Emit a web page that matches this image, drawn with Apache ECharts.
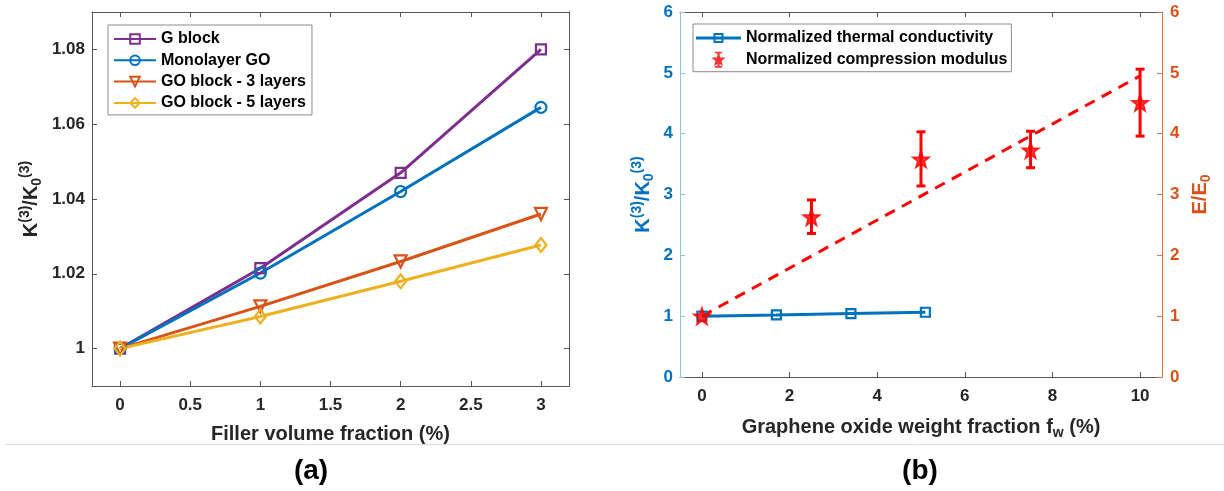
<!DOCTYPE html>
<html>
<head>
<meta charset="utf-8">
<script src="https://cdn.jsdelivr.net/npm/echarts@6/dist/echarts.min.js"></script>
<style>
  html, body { margin: 0; padding: 0; background: #fff; }
  #chart { width: 1224px; height: 491px; }
</style>
</head>
<body>
<div id="chart"></div>
<script>
// ---------- Data: panel (a) ----------
const fillerVol = [0, 1, 2, 3];
const gBlock = [1.000, 1.0215, 1.047, 1.080];
const monolayerGO = [1.000, 1.0202, 1.042, 1.0645];
const goBlock3 = [1.000, 1.0113, 1.0233, 1.036];
const goBlock5 = [1.000, 1.0086, 1.018, 1.0277];
const leftXTicks = [0, 0.5, 1, 1.5, 2, 2.5, 3];
const leftYTicks = [1, 1.02, 1.04, 1.06, 1.08];

// ---------- Data: panel (b) ----------
const weightFrac = [0, 1.7, 3.4, 5.1];
const kNorm = [1.000, 1.0202, 1.042, 1.0645];
const modX = [0, 2.5, 5, 7.5, 10];
const modMean = [1.0, 2.63, 3.58, 3.73, 4.51];
const modLow = [1.0, 2.36, 3.14, 3.44, 3.96];
const modHigh = [1.0, 2.91, 4.03, 4.04, 5.06];
const fitX = [0, 10];
const fitY = [1.0, 4.95];
const rightXTicks = [0, 2, 4, 6, 8, 10];

// ---------- Styles ----------
const FONT = "'Liberation Sans', Arial, sans-serif";
const C_PURPLE = '#7E2F8E', C_BLUE = '#0072BD', C_ORANGE = '#D95319', C_YELLOW = '#EDB120', C_RED = '#FF0000';
const AX = '#555555', TXT = '#262626';
const STAR = 'path://M0,-10L2.35,-3.24L9.51,-3.09L3.8,1.24L5.88,8.09L0,4L-5.88,8.09L-3.8,1.24L-9.51,-3.09L-2.35,-3.24Z';
const STAR_BAR = 'path://M-1.4,-10H1.4V10H-1.4Z M-4.5,-10H4.5V-8H-4.5Z M-4.5,8H4.5V10H-4.5Z M0,-8.5L2.4,-2.7L9,-2.6L3.8,1.6L5.7,8L0,4.3L-5.7,8L-3.8,1.6L-9,-2.6L-2.4,-2.7Z';
const LINE_SQUARE = 'path://M-22.5,-1.5H22.5V1.5H-22.5Z M-5,-5H5V5H-5Z M-3,-3V3H3V-3Z';

const tickLabel = (color) => ({ fontSize: 17, fontWeight: 'bold', color: color, fontFamily: FONT });
const nameRich = (color) => ({
  m: { fontSize: 20, fontWeight: 'bold', color: color, fontFamily: FONT, lineHeight: 26 },
  sup: { fontSize: 14, fontWeight: 'bold', color: color, fontFamily: FONT, verticalAlign: 'top', lineHeight: 14 },
  sub: { fontSize: 14, fontWeight: 'bold', color: color, fontFamily: FONT, verticalAlign: 'bottom', lineHeight: 14 }
});

function boxAxis(extra, lineColor, tickColor, ticks) {
  const base = {
    type: 'value',
    splitLine: { show: false },
    axisLine: { show: true, onZero: false, lineStyle: { color: lineColor, width: 1 } },
    axisTick: { show: true, inside: true, length: 5, lineStyle: { color: tickColor, width: 1 } },
    axisLabel: { show: false },
    nameMoveOverlap: false
  };
  if (ticks) {
    base.axisTick.customValues = ticks;
  }
  return Object.assign(base, extra);
}

function lineSeries(name, xs, ys, color, symbol, size, rotate) {
  return {
    type: 'line', name: name, xAxisIndex: 0, yAxisIndex: 0,
    data: xs.map((x, i) => [x, ys[i]]),
    symbol: symbol, symbolSize: size, symbolRotate: rotate || 0,
    lineStyle: { color: color, width: 3 },
    itemStyle: { color: 'rgba(255,255,255,0)', borderColor: color, borderWidth: 2.2 },
    z: 3
  };
}

const chart = echarts.init(document.getElementById('chart'), null, { renderer: 'canvas' });

const option = {
  animation: false,
  backgroundColor: '#ffffff',
  grid: [
    { left: 92, top: 12, width: 477, height: 374, outerBoundsMode: 'none', containLabel: false },
    { left: 680, top: 12, width: 482, height: 365, outerBoundsMode: 'none', containLabel: false }
  ],
  xAxis: [
    boxAxis({
      gridIndex: 0, position: 'bottom', min: -0.2, max: 3.2,
      axisLabel: Object.assign({ show: true, customValues: leftXTicks, margin: 11 }, tickLabel(TXT)),
      name: '{m|Filler volume fraction (%)}', nameLocation: 'middle', nameGap: 35,
      nameTextStyle: { rich: nameRich(TXT) }
    }, AX, AX, leftXTicks),
    boxAxis({ gridIndex: 0, position: 'top', min: -0.2, max: 3.2 }, AX, AX, leftXTicks),
    boxAxis({
      gridIndex: 1, position: 'bottom', min: -0.5, max: 10.5,
      axisLabel: Object.assign({ show: true, customValues: rightXTicks, margin: 11 }, tickLabel(TXT)),
      name: '{m|Graphene oxide weight fraction f}{sub|w}{m| (%)}', nameLocation: 'middle', nameGap: 37,
      nameTextStyle: { rich: nameRich(TXT) }
    }, AX, AX, rightXTicks),
    boxAxis({ gridIndex: 1, position: 'top', min: -0.5, max: 10.5 }, AX, AX, rightXTicks)
  ],
  yAxis: [
    boxAxis({
      gridIndex: 0, position: 'left', min: 0.99, max: 1.09,
      axisLabel: Object.assign({ show: true, customValues: leftYTicks, margin: 7,
        formatter: (v) => String(+Number(v).toFixed(2)) }, tickLabel(TXT)),
      name: '{m|K}{sup|(3)}{m|/K}{sub|0}{sup|(3)}', nameLocation: 'middle', nameRotate: 90, nameGap: 48,
      nameTextStyle: { rich: nameRich(TXT) }
    }, AX, AX, leftYTicks),
    boxAxis({ gridIndex: 0, position: 'right', min: 0.99, max: 1.09 }, AX, AX, leftYTicks),
    boxAxis({
      gridIndex: 1, position: 'left', min: 0, max: 6, interval: 1,
      axisLabel: Object.assign({ show: true, margin: 7 }, tickLabel(C_BLUE)),
      name: '{m|K}{sup|(3)}{m|/K}{sub|0}{sup|(3)}', nameLocation: 'middle', nameRotate: 90, nameGap: 24,
      nameTextStyle: { rich: nameRich(C_BLUE) }
    }, '#8fc0e6', '#8fc0e6'),
    boxAxis({
      gridIndex: 1, position: 'right', min: 0, max: 6, interval: 1,
      axisLabel: Object.assign({ show: true, margin: 8 }, tickLabel(C_ORANGE)),
      name: '{m|E/E}{sub|0}', nameLocation: 'middle', nameRotate: 90, nameGap: 25,
      nameTextStyle: { rich: nameRich(C_ORANGE) }
    }, '#e0773f', '#e0773f')
  ],
  legend: [
    {
      data: ['G block', 'Monolayer GO', 'GO block - 3 layers', 'GO block - 5 layers'],
      orient: 'vertical', left: 108, top: 25,
      itemWidth: 42, itemHeight: 12, itemGap: 5.3,
      padding: [6, 6, 4, 5],
      borderColor: '#8c8c8c', borderWidth: 1, backgroundColor: '#ffffff',
      selectedMode: false,
      textStyle: { fontSize: 16, fontWeight: 'bold', color: '#000', fontFamily: FONT }
    },
    {
      data: [
        { name: 'Normalized thermal conductivity', icon: LINE_SQUARE, itemStyle: { color: C_BLUE, borderWidth: 0 } },
        { name: 'Normalized compression modulus', icon: STAR_BAR, itemStyle: { color: C_RED, borderWidth: 0 } }
      ],
      orient: 'vertical', left: 693, top: 24,
      itemWidth: 45, itemHeight: 16, itemGap: 5.7,
      padding: [6, 4, 4, 3],
      borderColor: '#8c8c8c', borderWidth: 1, backgroundColor: '#ffffff',
      selectedMode: false,
      textStyle: { fontSize: 16, fontWeight: 'bold', color: '#000', fontFamily: FONT }
    }
  ],
  series: [
    lineSeries('G block', fillerVol, gBlock, C_PURPLE, 'rect', 10),
    lineSeries('Monolayer GO', fillerVol, monolayerGO, C_BLUE, 'circle', 11),
    lineSeries('GO block - 3 layers', fillerVol, goBlock3, C_ORANGE, 'triangle', 12, 180),
    lineSeries('GO block - 5 layers', fillerVol, goBlock5, C_YELLOW, 'diamond', [11, 14]),
    {
      type: 'line', name: 'Normalized thermal conductivity', xAxisIndex: 2, yAxisIndex: 2,
      data: weightFrac.map((x, i) => [x, kNorm[i]]),
      symbol: 'rect', symbolSize: 9,
      lineStyle: { color: C_BLUE, width: 3 },
      itemStyle: { color: 'rgba(255,255,255,0)', borderColor: C_BLUE, borderWidth: 2.2 },
      z: 2
    },
    {
      type: 'line', name: 'linear fit', xAxisIndex: 2, yAxisIndex: 3,
      data: fitX.map((x, i) => [x, fitY[i]]),
      symbol: 'none',
      lineStyle: { color: C_RED, width: 3, type: [11, 8] },
      z: 2
    },
    {
      type: 'custom', name: 'error bars', xAxisIndex: 2, yAxisIndex: 3,
      data: modX.map((x, i) => [x, modLow[i], modHigh[i]]),
      encode: { x: 0, y: [1, 2] },
      renderItem: function (params, api) {
        const x = api.value(0), lo = api.value(1), hi = api.value(2);
        if (hi - lo < 1e-9) return;
        const pTop = api.coord([x, hi]);
        const pBot = api.coord([x, lo]);
        const w = 4.5;
        const st = { stroke: C_RED, lineWidth: 3 };
        return {
          type: 'group',
          children: [
            { type: 'line', shape: { x1: pTop[0], y1: pTop[1], x2: pBot[0], y2: pBot[1] }, style: st },
            { type: 'line', shape: { x1: pTop[0] - w, y1: pTop[1], x2: pTop[0] + w, y2: pTop[1] }, style: st },
            { type: 'line', shape: { x1: pBot[0] - w, y1: pBot[1], x2: pBot[0] + w, y2: pBot[1] }, style: st }
          ]
        };
      },
      z: 3
    },
    {
      type: 'scatter', name: 'Normalized compression modulus', xAxisIndex: 2, yAxisIndex: 3,
      data: modX.map((x, i) => [x, modMean[i]]),
      symbol: STAR, symbolSize: 17,
      itemStyle: { color: C_RED, borderColor: C_RED, borderWidth: 1.5 },
      z: 4
    }
  ],
  graphic: [
    { type: 'line', shape: { x1: 6, y1: 444.5, x2: 1224, y2: 444.5 }, style: { stroke: '#dcdcdc', lineWidth: 1 }, silent: true },
    { type: 'text', x: 311, y: 471, style: { text: '(a)', fontSize: 28, fontWeight: 'bold', fontFamily: FONT, fill: '#000',
        align: 'center', verticalAlign: 'middle', textAlign: 'center', textVerticalAlign: 'middle' } },
    { type: 'text', x: 920, y: 471, style: { text: '(b)', fontSize: 28, fontWeight: 'bold', fontFamily: FONT, fill: '#000',
        align: 'center', verticalAlign: 'middle', textAlign: 'center', textVerticalAlign: 'middle' } }
  ]
};

chart.setOption(option);
</script>
</body>
</html>
